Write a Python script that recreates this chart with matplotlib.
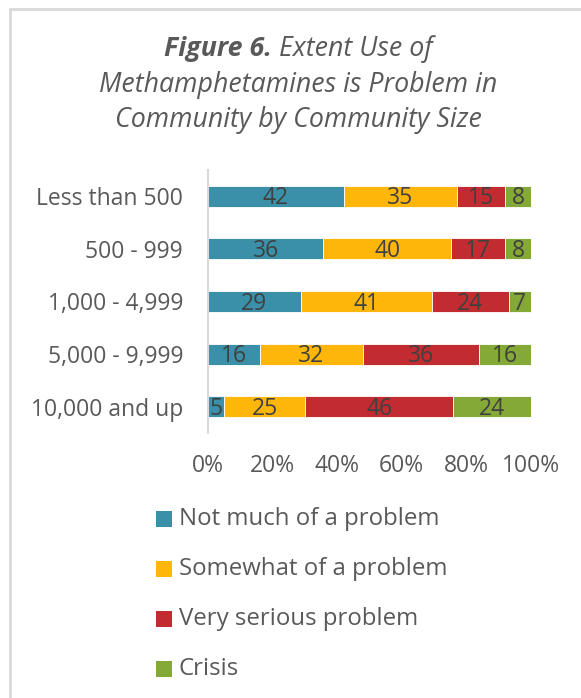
import matplotlib
matplotlib.use("Agg")
import matplotlib.pyplot as plt
from matplotlib.patches import Rectangle
from matplotlib.transforms import offset_copy
import numpy as np

# Community size groups, top to bottom
categories = ["Less than 500", "500 - 999", "1,000 - 4,999", "5,000 - 9,999", "10,000 and up"]
series_names = ["Not much of a problem", "Somewhat of a problem", "Very serious problem", "Crisis"]
not_much = [42, 36, 29, 16, 5]
somewhat = [35, 40, 41, 32, 25]
very_serious = [15, 17, 24, 36, 46]
crisis = [8, 8, 7, 16, 24]
colors = ["#3A90A8", "#FFB60A", "#C22B30", "#85A936"]
x_ticks = [0, 20, 40, 60, 80, 100]
x_tick_labels = ["0%", "20%", "40%", "60%", "80%", "100%"]

plt.rcParams["font.family"] = ["Open Sans", "DejaVu Sans"]

W, H = 581, 698
fig = plt.figure(figsize=(W / 100, H / 100), dpi=100)

# Chart frame (light gray border)
fig.add_artist(Rectangle((10 / W, -0.1), 1.2, 1 - 9 / H + 0.1, transform=fig.transFigure,
                         fill=False, edgecolor="#D9D9D9", linewidth=2))

ax = fig.add_axes([208 / W, 1 - 433 / H, (531 - 208) / W, (433 - 170) / H])

label_size = 16.5
cap_px = label_size * 100 / 72 * 0.714
label_tf = offset_copy(ax.transData, fig=fig, x=0, y=-cap_px / 2, units="dots")

data = np.array([not_much, somewhat, very_serious, crisis], dtype=float)
totals = data.sum(axis=0)
shares = data / totals * 100
y = np.arange(len(categories))
left = np.zeros(len(categories))
for i, name in enumerate(series_names):
    ax.barh(y, shares[i], left=left, height=0.4, color=colors[i], label=name,
            edgecolor="white", linewidth=0.6)
    for j in range(len(categories)):
        ax.text(left[j] + shares[i][j] / 2, y[j], f"{int(data[i][j])}", transform=label_tf,
                ha="center", va="baseline", fontsize=label_size, color="#404040")
    left += shares[i]

ax.set_xlim(0, 100)
ax.set_ylim(len(categories) - 0.5, -0.5)
ax.set_yticks(y)
ax.set_yticklabels(categories, fontsize=label_size, color="#595959")
ax.set_xticks(x_ticks)
ax.set_xticklabels(x_tick_labels, fontsize=label_size, color="#595959")
ax.tick_params(axis="both", length=0)
ax.tick_params(axis="y", pad=18)
ax.tick_params(axis="x", pad=15)
for s in ["top", "right", "bottom"]:
    ax.spines[s].set_visible(False)
ax.spines["left"].set_color("#D9D9D9")
ax.spines["left"].set_linewidth(1.5)

# Title: bold-italic figure number followed by italic text, centred as one line
cx = 298 / W
title_size = 19.3
tb = fig.text(0, 1 - 49 / H, "Figure 6.", fontsize=title_size, fontstyle="italic",
              fontweight="bold", color="#595959", ha="left", va="center")
tr = fig.text(0, 1 - 49 / H, " Extent Use of", fontsize=title_size, fontstyle="italic",
              color="#595959", ha="left", va="center")
fig.canvas.draw()
r = fig.canvas.get_renderer()
wb = tb.get_window_extent(r).width / W
wr = tr.get_window_extent(r).width / W
x0 = cx - (wb + wr) / 2
tb.set_x(x0)
tr.set_x(x0 + wb)
fig.text(cx, 1 - 85 / H, "Methamphetamines is Problem in", fontsize=title_size,
         fontstyle="italic", color="#595959", ha="center", va="center")
fig.text(cx, 1 - 120 / H, "Community by Community Size", fontsize=title_size,
         fontstyle="italic", color="#595959", ha="center", va="center")

# Legend
for k, name in enumerate(series_names):
    yc = 519 + 50 * k
    fig.add_artist(Rectangle((156 / W, 1 - (yc + 8) / H), 16 / W, 16 / H,
                             transform=fig.transFigure, facecolor=colors[k], edgecolor="none"))
    fig.text(179 / W, 1 - yc / H, name, fontsize=17.3, color="#595959", ha="left", va="center")

fig.savefig("out.png", dpi=100, facecolor="white")
